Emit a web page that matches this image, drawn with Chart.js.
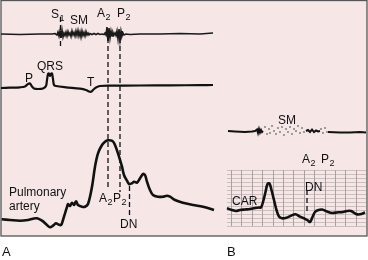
<!DOCTYPE html>
<html><head><meta charset="utf-8">
<script src="https://cdn.jsdelivr.net/npm/chart.js@4/dist/chart.umd.min.js"></script>
<style>html,body{margin:0;padding:0;background:#fff}canvas{display:block}</style>
</head><body>
<canvas id="c" width="368" height="260"></canvas>
<script>
// ---- Data (time axis units, amplitude axis units) ----
const phonoA = [[1,34],[20,34.5],[40,34],[52,34],[55,33.5],[57,35],[58,32],[59,36],[60,31],[61,38],[62,30],[63,37],[64,33],[65,35.5],[66,32],[67,36],[68,31.5],[69,35],[70,33],[71,36.5],[72,31],[73,35],[74,32.5],[75,36],[76,31],[77,35.5],[78,30.5],[79,36],[80,32],[81,37],[82,31],[83,35.5],[84,32.5],[85,36],[86,31.5],[87,35],[88,33],[89,35],[90,33.5],[92,34.5],[94,33.5],[96,34.5],[98,33.5],[100,34.5],[102,34],[104,34.5],[105,33],[106,35],[107,27],[108,41],[109,28],[110,38],[111,31],[112,36],[113,32.5],[114,35],[115,33],[116,35.5],[117,31],[118,39],[119,29],[120,40],[121,31],[122,36],[123,33],[124,35],[126,34],[130,34.5],[140,34],[160,34],[180,33.5],[200,34],[213,33]];
const ecgA = [[1,88],[10,87.7],[20,87.3],[25,86.5],[28,84],[30,83.5],[32,86.5],[34,88.5],[38,89],[43,88.5],[46,86],[47,80],[48,74],[49,73.5],[50,76],[51,74],[52,73.5],[53,79],[54,85],[56,86],[66,87.3],[80,88.7],[86,90],[89,91.5],[91,91.8],[93,90],[96,87.5],[100,86],[110,85.7],[140,85.5],[170,85.3],[200,85.2],[213,85]];
const pulmA = [[1.7,219.3],[10,220],[20,220.7],[28,220],[33,218.7],[37,218.3],[42,220.7],[47,225],[50,227.3],[53,225.7],[56,223.3],[58,224.3],[61,225],[63,220],[65,213.3],[67,207],[68,204],[70,206],[72,202.7],[74,205],[76,201.3],[78,205],[82,206.7],[85,206.7],[88,204],[92,186.7],[95,166.7],[98,153.3],[102,145],[105,141.7],[108,140.3],[111,140.5],[113,141.5],[115,145],[118,153.3],[122,166.7],[124,175],[127,180.7],[129,184],[132,183.3],[134,181.7],[137,182.7],[139,180],[143,174],[145,175],[147,181.7],[150,190],[153,195],[158,196.7],[163,196.7],[167,195.7],[170,196.7],[175,200],[183,202.7],[193,205],[203,206.7],[214,210]];
const phonoB = [[228,131],[235,131.5],[245,132],[252,131.5],[255,131],[257,129.5],[258,133],[259,129],[260,132.5],[261,130],[262,132],[263,131],null,[306,131],[308,130],[310,132],[312,129.5],[314,132],[316,130.5],[318,131.5],[320,131],null,[328,132],[340,132.5],[350,132.5],[360,132],[366,132.5]];
const noiseB = [[265,127],[267,134],[269,129],[270,133],[272,126],[274,131],[276,134],[278,128],[280,132],[282,127],[284,135],[286,129],[288,132],[290,127],[292,134],[294,129],[296,131],[298,126],[300,133],[302,128],[304,132],[321,129],[323,133],[325,128],[327,132]];
const carB = [[227,208.3],[232,210],[236,211],[240,210],[245,209.5],[250,209],[255,208],[259,207.5],[261,207.5],[263,202],[265.5,192],[267.5,184],[269.5,183.5],[271.5,190],[274,200],[276.5,210],[279,216.5],[282,218.3],[286.5,217.7],[291,215.7],[295.5,214.3],[300,216.7],[305,218.8],[308,220.5],[310,222],[312.5,217],[315,212],[318.5,210],[322,209.5],[327,211.5],[332,213],[338,212.3],[343,212],[347,211],[351,211],[356,214],[360,214.3],[365,212.5]];
// event markers (time, from, to)
const markers = [[60.5,17,49],[108,38,189],[120,38,192],[129.5,186,218],[307,190,212]];
// text labels: text, subscript, time, amplitude(baseline)
const labels = [
 ['S','1',51,18],['SM','',70,24],['A','2',97,17],['P','2',117,17],
 ['P','',25,82],['QRS','',37,70],['T','',87,86],
 ['Pulmonary','',9,196],['artery','',9,209.5],['A','2',99,202],['P','2',113,202],['DN','',120,228],
 ['SM','',278,123.5],['A','2',302,163],['P','2',321,163],['CAR','',232,204.5],['DN','',305,191]
];
const panelLabels = [['A',2,256],['B',227,256]];
const panelBox = [1,367,0.5,236];
const gridB = {x0:227,x1:366,y0:170,y1:226,dx:10.4,dy:4};

const pts = a => a.map(p => p ? {x:p[0], y:p[1]} : {x:null,y:null});

const bgPlugin = {
  id:'bg',
  beforeDraw(chart){
    const {ctx, scales:{x,y}} = chart;
    ctx.save();
    ctx.fillStyle='#fff'; ctx.fillRect(0,0,chart.width,chart.height);
    const X0=x.getPixelForValue(panelBox[0]), X1=x.getPixelForValue(panelBox[1]);
    const Y0=y.getPixelForValue(panelBox[2]), Y1=y.getPixelForValue(panelBox[3]);
    ctx.fillStyle='#f6e6e6'; ctx.fillRect(X0,Y0,X1-X0,Y1-Y0);
    ctx.strokeStyle='#555'; ctx.lineWidth=1.3; ctx.strokeRect(X0,Y0,X1-X0,Y1-Y0);
    // grid panel B
    const gx0=x.getPixelForValue(gridB.x0), gx1=x.getPixelForValue(gridB.x1);
    const gy0=y.getPixelForValue(gridB.y0), gy1=y.getPixelForValue(gridB.y1);
    ctx.lineWidth=1;
    ctx.strokeStyle='#c9c0c0';
    for(let v=gridB.y0; v<=gridB.y1+0.01; v+=gridB.dy){
      const py=Math.round(y.getPixelForValue(v))+0.5;
      ctx.beginPath(); ctx.moveTo(gx0,py); ctx.lineTo(gx1,py); ctx.stroke();
    }
    ctx.strokeStyle='#a9a0a0';
    for(let v=gridB.x0+4; v<=gridB.x1; v+=gridB.dx){
      const px=Math.round(x.getPixelForValue(v))+0.5;
      ctx.beginPath(); ctx.moveTo(px,gy0); ctx.lineTo(px,gy1); ctx.stroke();
    }
    ctx.restore();
  },
  afterDatasetsDraw(chart){
    const {ctx, scales:{x,y}} = chart;
    ctx.save();
    // markers
    ctx.strokeStyle='#111'; ctx.lineWidth=1.3; ctx.setLineDash([5,3]);
    markers.forEach(m=>{
      const px=x.getPixelForValue(m[0]);
      ctx.beginPath(); ctx.moveTo(px,y.getPixelForValue(m[1])); ctx.lineTo(px,y.getPixelForValue(m[2])); ctx.stroke();
    });
    ctx.setLineDash([]);
    ctx.fillStyle='#111'; ctx.textBaseline='alphabetic';
    labels.forEach(l=>{
      const px=x.getPixelForValue(l[2]), py=y.getPixelForValue(l[3]);
      ctx.font='12px "Liberation Sans", Arial, sans-serif';
      ctx.fillText(l[0],px,py);
      if(l[1]){
        const w=ctx.measureText(l[0]).width;
        ctx.font='9px "Liberation Sans", Arial, sans-serif';
        ctx.fillText(l[1],px+w+0.5,py+3);
      }
    });
    ctx.font='13px "Liberation Sans", Arial, sans-serif';
    panelLabels.forEach(l=>ctx.fillText(l[0],x.getPixelForValue(l[1]),y.getPixelForValue(l[2])));
    ctx.restore();
  }
};

new Chart(document.getElementById('c'),{
  type:'line',
  data:{datasets:[
    {data:pts(phonoA),borderColor:'#1a1a1a',borderWidth:1.6,tension:0},
    {data:pts(ecgA),borderColor:'#111',borderWidth:2.2,tension:0.3},
    {data:pts(pulmA),borderColor:'#111',borderWidth:2.6,tension:0.35},
    {data:pts(phonoB),borderColor:'#111',borderWidth:2,tension:0,spanGaps:false},
    {data:pts(noiseB),borderColor:'#888',borderWidth:1,tension:0,showLine:false,pointRadius:0.9,pointBackgroundColor:'#777',pointBorderWidth:0},
    {data:pts(carB),borderColor:'#111',borderWidth:2.6,tension:0.35}
  ]},
  options:{
    responsive:false, animation:false, devicePixelRatio:1,
    layout:{padding:0,autoPadding:false},
    elements:{point:{radius:0}},
    plugins:{legend:{display:false},tooltip:{enabled:false}},
    scales:{
      x:{type:'linear',min:0,max:368,display:false},
      y:{type:'linear',min:0,max:260,reverse:true,display:false}
    }
  },
  plugins:[bgPlugin]
});
</script>
</body></html>
